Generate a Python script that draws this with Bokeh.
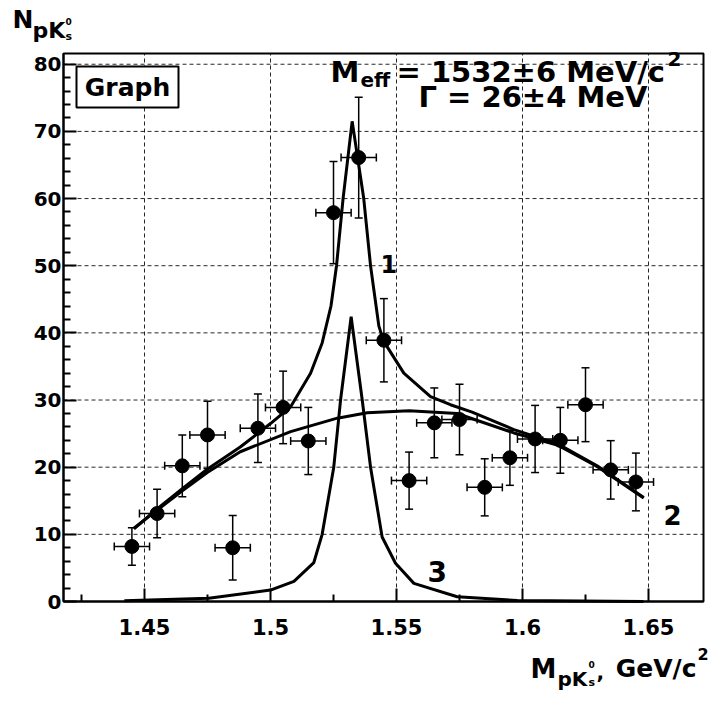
from bokeh.plotting import figure
from bokeh.models import (Range1d, FixedTicker, Whisker, TeeHead, ColumnDataSource,
                          Label, BoxAnnotation)
from bokeh.embed import file_html
from bokeh.resources import INLINE

# ---------------- data ----------------
BIN_X = [1.445, 1.455, 1.465, 1.475, 1.485, 1.495, 1.505, 1.515, 1.525, 1.535, 1.545,
         1.555, 1.565, 1.575, 1.585, 1.595, 1.605, 1.615, 1.625, 1.635, 1.645]
COUNTS = [8.2, 13.1, 20.2, 24.8, 8.0, 25.8, 28.9, 23.9, 57.9, 66.1, 38.9,
          18.0, 26.6, 27.1, 17.0, 21.4, 24.2, 24.0, 29.3, 19.6, 17.8]
ERR_Y = [2.8, 3.6, 4.6, 5.0, 4.8, 5.1, 5.4, 5.0, 7.6, 9.0, 6.2,
         4.25, 5.2, 5.25, 4.25, 4.1, 5.0, 4.9, 5.5, 4.35, 4.3]
ERR_X = 0.007

# curve 1: signal + background
C1_X = [1.4458, 1.455, 1.465, 1.4749, 1.488, 1.500, 1.508, 1.5159, 1.5205, 1.5240, 1.5262,
        1.5288, 1.5324, 1.5370, 1.5397, 1.5430, 1.5450, 1.5529, 1.5635, 1.5714, 1.5800,
        1.5966, 1.6138, 1.6296, 1.6481]
C1_Y = [10.8, 13.8, 16.8, 19.7, 23.0, 26.5, 29.0, 34.0, 38.5, 44.0, 50.0,
        60.0, 71.5, 60.0, 50.0, 41.0, 38.7, 34.0, 30.5, 29.3, 28.2,
        25.6, 23.5, 20.2, 15.5]
# curve 2: background
C2_X = [1.4458, 1.455, 1.465, 1.4749, 1.488, 1.508, 1.5265, 1.5384, 1.555, 1.574,
        1.5966, 1.6138, 1.6296, 1.6481]
C2_Y = [10.9, 13.6, 16.5, 19.2, 22.3, 25.3, 27.3, 28.1, 28.4, 28.0,
        25.1, 23.3, 20.1, 15.4]
# curve 3: signal only
C3_X = [1.442, 1.4755, 1.500, 1.5093, 1.5172, 1.5205, 1.5251, 1.5278, 1.5320, 1.5364,
        1.5397, 1.5443, 1.5496, 1.5569, 1.5741, 1.598, 1.648]
C3_Y = [0.1, 0.5, 1.7, 3.0, 5.8, 10.0, 20.0, 30.0, 42.4, 30.0,
        20.0, 9.6, 5.7, 2.7, 0.7, 0.15, 0.0]

X_TICKS = [1.45, 1.5, 1.55, 1.6, 1.65]
X_TICK_LABELS = ["1.45", "1.5", "1.55", "1.6", "1.65"]
X_MINOR = [1.425, 1.475, 1.525, 1.575, 1.625]
Y_TICKS = [0, 10, 20, 30, 40, 50, 60, 70, 80]
Y_MINOR = [2, 4, 6, 8, 12, 14, 16, 18, 22, 24, 26, 28, 32, 34, 36, 38,
           42, 44, 46, 48, 52, 54, 56, 58, 62, 64, 66, 68, 72, 74, 76, 78]

# visible plot box (data units)
X_MIN, X_MAX = 1.417857, 1.671825
Y_MIN, Y_MAX = 0.0, 81.6

FONT = "DejaVu Sans"

# layout: the plotting frame spans the whole canvas; the visible box sits at
# canvas pixels left 63, right 703, top 53, bottom 601
W, H = 711, 701
BOX_L, BOX_R, BOX_T, BOX_B = 63, 703, 53, 601
KX = (X_MAX - X_MIN) / (BOX_R - BOX_L)
KY = (Y_MAX - Y_MIN) / (BOX_B - BOX_T)
TEXT_DY = 9  # baseline correction in pixels

def PX(px):
    return X_MIN + (px - BOX_L) * KX

def PY(py):
    return Y_MIN + (BOX_B - py) * KY

p = figure(width=W, height=H, output_backend="svg", toolbar_location=None,
           x_range=Range1d(PX(0), PX(W)), y_range=Range1d(PY(H), PY(0)),
           min_border=0, min_border_left=0, min_border_right=0,
           min_border_top=0, min_border_bottom=0)
p.background_fill_color = "white"
p.border_fill_color = "white"
p.outline_line_color = None
p.xgrid.visible = False
p.ygrid.visible = False

p.xaxis.ticker = FixedTicker(ticks=X_TICKS, minor_ticks=X_MINOR)
p.xaxis.major_label_overrides = {t: l for t, l in zip(X_TICKS, X_TICK_LABELS)}
p.xaxis.fixed_location = Y_MIN
p.xaxis.bounds = (X_MIN, X_MAX)
p.yaxis.ticker = FixedTicker(ticks=Y_TICKS, minor_ticks=Y_MINOR)
p.yaxis.fixed_location = X_MIN
p.yaxis.bounds = (Y_MIN, Y_MAX)

for ax in (p.xaxis[0], p.yaxis[0]):
    ax.axis_line_color = "black"
    ax.axis_line_width = 2
    ax.major_tick_in = 13
    ax.major_tick_out = 0
    ax.minor_tick_in = 7
    ax.minor_tick_out = 0
    ax.major_tick_line_color = "black"
    ax.major_tick_line_width = 2
    ax.minor_tick_line_color = "black"
    ax.minor_tick_line_width = 2
    ax.major_label_text_font = FONT
    ax.major_label_text_font_style = "bold"
    ax.major_label_text_color = "black"
p.xaxis.major_label_text_font_size = "21px"
p.xaxis.major_label_standoff = 17
p.yaxis.major_label_text_font_size = "20px"
p.yaxis.major_label_standoff = 2

# dashed grid at the major tick values, limited to the plot box
p.segment(x0=X_TICKS, y0=[Y_MIN] * len(X_TICKS), x1=X_TICKS, y1=[Y_MAX] * len(X_TICKS),
          line_color="black", line_dash="4 3", line_width=1, line_alpha=0.85)
p.segment(x0=[X_MIN] * (len(Y_TICKS) - 1), y0=Y_TICKS[1:],
          x1=[X_MAX] * (len(Y_TICKS) - 1), y1=Y_TICKS[1:],
          line_color="black", line_dash="4 3", line_width=1, line_alpha=0.85)

# plot box outline
p.add_layout(BoxAnnotation(left=X_MIN, right=X_MAX, bottom=Y_MIN, top=Y_MAX,
                           fill_color=None, fill_alpha=0,
                           line_color="black", line_alpha=1.0, line_width=2,
                           level="underlay"))

# Graph box
p.add_layout(BoxAnnotation(left=PX(76), right=PX(178), top=PY(66), bottom=PY(107),
                           fill_color="white", fill_alpha=1.0,
                           line_color="black", line_alpha=1.0, line_width=2))

def txt(px, py, s, size, align="left"):
    p.add_layout(Label(x=PX(px), y=PY(py - TEXT_DY), text=s, text_font=FONT,
                       text_font_style="bold", text_font_size=f"{size}px",
                       text_color="black", text_align=align,
                       text_baseline="alphabetic"))

# curves
p.line(C2_X, C2_Y, line_width=3, line_color="black")
p.line(C3_X, C3_Y, line_width=3, line_color="black")
p.line(C1_X, C1_Y, line_width=3, line_color="black")

# data with error bars
src = ColumnDataSource(dict(
    x=BIN_X, y=COUNTS,
    ylo=[c - e for c, e in zip(COUNTS, ERR_Y)],
    yhi=[c + e for c, e in zip(COUNTS, ERR_Y)],
    xlo=[x - ERR_X for x in BIN_X],
    xhi=[x + ERR_X for x in BIN_X],
))
p.add_layout(Whisker(base="x", lower="ylo", upper="yhi", source=src, dimension="height",
                     line_color="black", line_width=1.5,
                     upper_head=TeeHead(size=8, line_color="black", line_width=1.5),
                     lower_head=TeeHead(size=8, line_color="black", line_width=1.5)))
p.add_layout(Whisker(base="y", lower="xlo", upper="xhi", source=src, dimension="width",
                     line_color="black", line_width=1.5,
                     upper_head=TeeHead(size=8, line_color="black", line_width=1.5),
                     lower_head=TeeHead(size=8, line_color="black", line_width=1.5)))
p.scatter("x", "y", source=src, size=14, color="black")

# texts inside the box
txt(127, 96, "Graph", 25, align="center")
txt(330, 80, "M", 29)
txt(360, 88, "eff", 20)
txt(396, 80, "= 1532\u00b16 MeV/c", 29)
txt(667, 67, "2", 20)
txt(418, 105, "\u0393 = 26\u00b14 MeV", 29)

txt(380, 272, "1", 24)
txt(663, 523, "2", 26)
txt(427, 580, "3", 28)

# y axis title
txt(12, 28, "N", 25)
txt(32, 39, "pK", 22)
txt(65, 30, "0", 9)
txt(65, 45, "s", 11)

# x axis title
txt(530, 677, "M", 26)
txt(557, 687, "pK", 20)
txt(588, 673, "0", 9)
txt(588, 691, "s", 11)
txt(596, 680, ",", 20)
txt(696, 677, "GeV/c", 25, align="right")
txt(697, 662, "2", 16)

open("out.html", "w").write(file_html(p, INLINE))
